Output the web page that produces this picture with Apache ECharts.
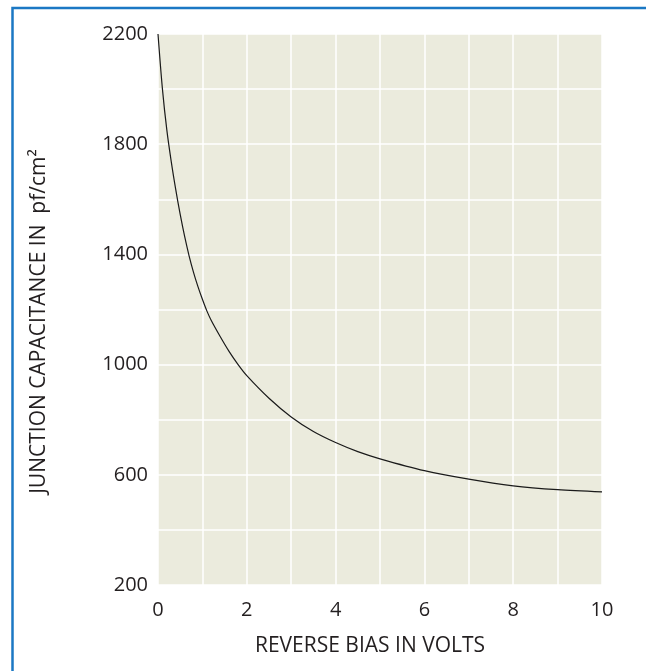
<!DOCTYPE html>
<html>
<head>
<meta charset="utf-8">
<script src="https://cdn.jsdelivr.net/npm/echarts@6/dist/echarts.min.js"></script>
<style>
  html, body { margin: 0; padding: 0; background: #ffffff; }
  #chart { width: 646px; height: 671px; }
</style>
</head>
<body>
<div id="chart"></div>
<script>
// Reverse bias (V) and junction capacitance (pF/cm²)
const biasVolts = [0, 0.1, 0.2, 0.3, 0.4, 0.5, 0.6, 0.7, 0.8, 0.9, 1.0, 1.1, 1.2, 1.4, 1.6, 1.8, 2.0, 2.5, 3, 3.5, 4, 4.5, 5, 6, 7, 8, 9, 10];
const capacitance = [2200, 2000, 1850, 1735, 1635, 1545, 1465, 1395, 1335, 1283, 1237, 1195, 1160, 1102, 1048, 1001, 960, 878, 810, 757, 717, 684, 658, 615, 584, 560, 546, 538];

const xTickLabels = [0, 2, 4, 6, 8, 10];
const yTickLabels = [200, 600, 1000, 1400, 1800, 2200];

const FONT = '"Open Sans", "Noto Sans", sans-serif';
const TEXT = '#231f20';

const chart = echarts.init(document.getElementById('chart'), null, { renderer: 'canvas' });

chart.setOption({
  animation: false,
  backgroundColor: '#ffffff',
  graphic: [{
    type: 'rect',
    shape: { x: 12.5, y: 8, width: 700, height: 700 },
    style: { fill: 'none', stroke: '#1b78c4', lineWidth: 2.5 },
    z: -10
  }],
  grid: {
    left: 158, top: 34, right: 44, bottom: 86,
    show: true,
    backgroundColor: '#ebebdd',
    borderWidth: 0
  },
  xAxis: {
    type: 'value',
    min: 0, max: 10, interval: 1,
    axisLine: { show: false },
    axisTick: { show: false },
    splitLine: { show: true, lineStyle: { color: '#ffffff', width: 1.5 } },
    axisLabel: {
      margin: 15,
      fontFamily: FONT, fontSize: 20, color: TEXT,
      formatter: v => xTickLabels.includes(v) ? String(v) : ''
    },
    name: 'REVERSE BIAS IN VOLTS',
    nameLocation: 'middle',
    nameGap: 51,
    nameTextStyle: { fontFamily: FONT, fontSize: 21, color: TEXT, padding: [0, 20, 0, 0] }
  },
  yAxis: {
    type: 'value',
    min: 200, max: 2200, interval: 200,
    axisLine: { show: false },
    axisTick: { show: false },
    splitLine: { show: true, lineStyle: { color: '#ffffff', width: 1.5 } },
    axisLabel: {
      margin: 10,
      fontFamily: FONT, fontSize: 20, color: TEXT,
      formatter: v => yTickLabels.includes(v) ? String(v) : ''
    },
    name: 'JUNCTION CAPACITANCE IN  pf/cm²',
    nameLocation: 'middle',
    nameGap: 108,
    nameTextStyle: { fontFamily: FONT, fontSize: 21, color: TEXT, padding: [0, 24, 0, 0] }
  },
  series: [{
    type: 'line',
    data: biasVolts.map((x, i) => [x, capacitance[i]]),
    smooth: 0.3,
    showSymbol: false,
    lineStyle: { color: '#1a1a1a', width: 1.2 },
    z: 5
  }]
});
</script>
</body>
</html>
